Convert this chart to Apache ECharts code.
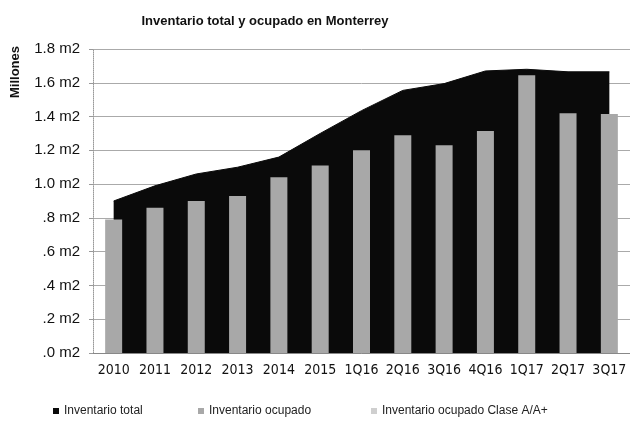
<!DOCTYPE html>
<html>
<head>
<meta charset="utf-8">
<script src="https://cdn.jsdelivr.net/npm/echarts@6/dist/echarts.min.js"></script>
<style>
  html, body { margin: 0; padding: 0; background: #fff; }
  #chart { width: 630px; height: 421px; }
</style>
</head>
<body>
<div id="chart"></div>
<script>
// Periodos (anuales y trimestrales)
const categories = ['2010', '2011', '2012', '2013', '2014', '2015', '1Q16', '2Q16', '3Q16', '4Q16', '1Q17', '2Q17', '3Q17'];
// Millones de m2
const inventarioTotal = [0.90, 0.99, 1.06, 1.10, 1.16, 1.30, 1.435, 1.555, 1.595, 1.67, 1.68, 1.665, 1.665];
const inventarioOcupado = [0.79, 0.86, 0.90, 0.93, 1.04, 1.11, 1.20, 1.29, 1.23, 1.315, 1.645, 1.42, 1.415];
const inventarioClaseA = [];
const yTicks = [0, 0.2, 0.4, 0.6, 0.8, 1.0, 1.2, 1.4, 1.6, 1.8];

const seriesNames = ['Inventario total', 'Inventario ocupado', 'Inventario ocupado Clase A/A+'];
const colors = ['#0a0a0a', '#a8a8a8', '#cfcfcf'];
const legendLeft = [48, 193, 366];
const FONT = 'Liberation Sans, Arial, sans-serif';

function tickLabel(v) {
  const s = v.toFixed(1);
  return (v < 1 ? s.slice(1) : s) + ' m2';
}

const chart = echarts.init(document.getElementById('chart'), null, { renderer: 'canvas' });
chart.setOption({
  animation: false,
  backgroundColor: '#fff',
  textStyle: { fontFamily: FONT },
  title: {
    text: 'Inventario total y ocupado en Monterrey',
    left: 260, top: 10, textAlign: 'center',
    textStyle: { fontSize: 13, fontWeight: 'bold', color: '#111', fontFamily: FONT }
  },
  legend: seriesNames.map((n, i) => ({
    data: [n],
    left: legendLeft[i], top: 400,
    itemWidth: 6, itemHeight: 6, icon: 'rect',
    textStyle: { fontSize: 12, color: '#222', fontFamily: FONT },
    itemGap: 4
  })),
  grid: { left: 93, right: -3, top: 49, bottom: 68 },
  xAxis: {
    type: 'category',
    data: categories,
    boundaryGap: true,
    axisLine: { show: true, lineStyle: { color: '#888' } },
    axisTick: { show: false },
    axisLabel: {
      fontSize: 14, color: '#111', margin: 10, interval: 0,
      fontFamily: 'Liberation Sans Narrow, DejaVu Sans Condensed, Liberation Sans, sans-serif'
    }
  },
  yAxis: {
    type: 'value',
    min: yTicks[0], max: yTicks[yTicks.length - 1], interval: 0.2,
    axisLine: { show: true, lineStyle: { color: '#999', type: 'dotted' } },
    axisTick: { show: true, length: 4, lineStyle: { color: '#999' } },
    splitLine: { show: true, lineStyle: { color: '#aaa', width: 1 } },
    axisLabel: { fontSize: 15, color: '#111', margin: 13, formatter: tickLabel, fontFamily: FONT }
  },
  graphic: [{
    type: 'text',
    x: 15, y: 72, rotation: Math.PI / 2,
    style: {
      text: 'Millones', fontSize: 13, fontWeight: 'bold', fill: '#111', fontFamily: FONT,
      align: 'center', verticalAlign: 'middle'
    }
  }],
  series: [
    {
      name: seriesNames[0], type: 'line', data: inventarioTotal,
      symbol: 'none', color: colors[0],
      lineStyle: { color: colors[0], width: 1 },
      areaStyle: { color: colors[0], opacity: 1 },
      z: 1
    },
    {
      name: seriesNames[1], type: 'bar', data: inventarioOcupado,
      barWidth: 17, barGap: '-100%', color: colors[1], z: 3
    },
    {
      name: seriesNames[2], type: 'bar', data: inventarioClaseA,
      barWidth: 17, barGap: '-100%', color: colors[2], z: 3
    }
  ]
});
</script>
</body>
</html>
